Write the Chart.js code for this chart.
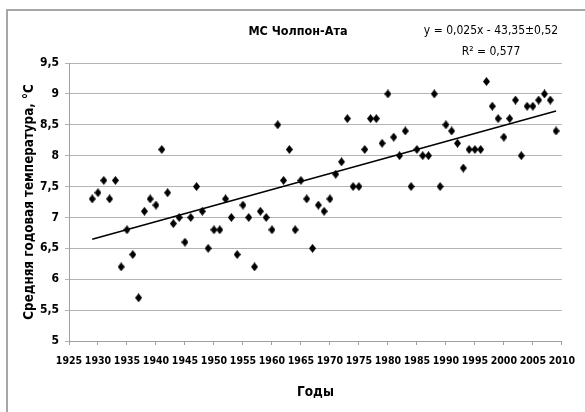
<!DOCTYPE html>
<html>
<head>
<meta charset="utf-8">
<script src="https://cdn.jsdelivr.net/npm/chart.js@4/dist/chart.umd.min.js"></script>
<style>
  html, body { margin: 0; padding: 0; background: #fff; }
  #wrap { width: 585px; height: 412px; }
</style>
</head>
<body>
<div id="wrap"><canvas id="myChart" width="585" height="412"></canvas></div>
<script>
const years = [1929, 1930, 1931, 1932, 1933, 1934, 1935, 1936, 1937, 1938,
  1939, 1940, 1941, 1942, 1943, 1944, 1945, 1946, 1947, 1948,
  1949, 1950, 1951, 1952, 1953, 1954, 1955, 1956, 1957, 1958,
  1959, 1960, 1961, 1962, 1963, 1964, 1965, 1966, 1967, 1968,
  1969, 1970, 1971, 1972, 1973, 1974, 1975, 1976, 1977, 1978,
  1979, 1980, 1981, 1982, 1983, 1984, 1985, 1986, 1987, 1988,
  1989, 1990, 1991, 1992, 1993, 1994, 1995, 1996, 1997, 1998,
  1999, 2000, 2001, 2002, 2003, 2004, 2005, 2006, 2007, 2008, 2009];
const temps = [7.3, 7.4, 7.6, 7.3, 7.6, 6.2, 6.8, 6.4, 5.7, 7.1,
  7.3, 7.2, 8.1, 7.4, 6.9, 7.0, 6.6, 7.0, 7.5, 7.1,
  6.5, 6.8, 6.8, 7.3, 7.0, 6.4, 7.2, 7.0, 6.2, 7.1,
  7.0, 6.8, 8.5, 7.6, 8.1, 6.8, 7.6, 7.3, 6.5, 7.2,
  7.1, 7.3, 7.7, 7.9, 8.6, 7.5, 7.5, 8.1, 8.6, 8.6,
  8.2, 9.0, 8.3, 8.0, 8.4, 7.5, 8.1, 8.0, 8.0, 9.0,
  7.5, 8.5, 8.4, 8.2, 7.8, 8.1, 8.1, 8.1, 9.2, 8.8,
  8.6, 8.3, 8.6, 8.9, 8.0, 8.8, 8.8, 8.9, 9.0, 8.9, 8.4];

const chartTitle = 'МС Чолпон-Ата';
const eqLines = ['y = 0,025x - 43,35±0,52', 'R² = 0,577'];
const xTitle = 'Годы';
const yTitle = 'Средняя годовая температура, °С';

const narrow = "'DejaVu Sans Condensed', 'Liberation Sans Narrow', sans-serif";

// least squares trend, drawn from first to last year
const n = years.length;
let sx = 0, sy = 0, sxx = 0, sxy = 0;
for (let i = 0; i < n; i++) {
  sx += years[i]; sy += temps[i];
  sxx += years[i] * years[i]; sxy += years[i] * temps[i];
}
const slope = (n * sxy - sx * sy) / (n * sxx - sx * sx);
const icpt = (sy - slope * sx) / n;
const trend = [years[0], years[n - 1]].map(x => ({ x, y: icpt + slope * x }));

// Excel-like diamond marker
const marker = document.createElement('canvas');
marker.width = 7; marker.height = 9;
const m = marker.getContext('2d');
m.fillStyle = '#000';
m.beginPath();
m.moveTo(3.5, 0); m.lineTo(7, 4.5); m.lineTo(3.5, 9); m.lineTo(0, 4.5);
m.closePath();
m.fill();

const frame = {
  id: 'frame',
  beforeDraw(chart) {
    const c = chart.ctx;
    c.save();
    c.fillStyle = '#fff';
    c.fillRect(0, 0, chart.width, chart.height);
    c.strokeStyle = '#a6a6a6';
    c.lineWidth = 2;
    c.strokeRect(7, 10, 700, 500);
    c.restore();
  },
  afterDraw(chart) {
    const c = chart.ctx;
    c.save();
    c.fillStyle = '#000';
    c.textAlign = 'center';
    c.textBaseline = 'middle';
    c.font = "bold 12.5px " + narrow;
    c.fillText(chartTitle, 298, 32);
    c.font = "12px " + narrow;
    c.fillText(eqLines[0], 491, 31);
    c.fillText(eqLines[1], 491, 52);
    c.restore();
  }
};

const data = {
  datasets: [
    {
      type: 'scatter',
      label: 'T',
      data: years.map((x, i) => ({ x, y: temps[i] })),
      pointStyle: marker,
      pointRadius: 4,
      order: 1
    },
    {
      type: 'line',
      label: 'trend',
      data: trend,
      borderColor: '#000',
      borderWidth: 1.5,
      pointRadius: 0,
      fill: false,
      order: 2
    }
  ]
};

const ctx = document.getElementById('myChart').getContext('2d');
const myChart = new Chart(ctx, {
  type: 'scatter',
  data: data,
  plugins: [frame],
  options: {
    responsive: false,
    animation: false,
    layout: { padding: { left: 0, top: 63, right: 19, bottom: 0 } },
    plugins: { legend: { display: false }, tooltip: { enabled: false } },
    scales: {
      x: {
        type: 'linear',
        min: 1925,
        max: 2010,
        afterFit: s => { s.height = 71; },
        ticks: {
          stepSize: 5,
          padding: 10,
          maxRotation: 0,
          autoSkip: false,
          color: '#000',
          font: { family: narrow, size: 10.5, weight: 'bold' },
          callback: v => String(v)
        },
        grid: { drawOnChartArea: false, color: '#a0a0a0', tickLength: 4 },
        border: { color: '#a0a0a0' },
        title: {
          display: true,
          text: xTitle,
          color: '#000',
          font: { family: narrow, size: 13.5, weight: 'bold' },
          padding: { top: 0, bottom: 11 }
        }
      },
      y: {
        min: 5,
        max: 9.5,
        afterFit: s => { s.width = 69; },
        ticks: {
          stepSize: 0.5,
          padding: 6,
          color: '#000',
          font: { family: narrow, size: 12, weight: 'bold' },
          callback: v => String(v).replace('.', ',')
        },
        grid: { color: '#b4b4b4', tickLength: 4 },
        border: { color: '#a0a0a0' },
        title: {
          display: true,
          text: yTitle,
          color: '#000',
          font: { family: narrow, size: 13.3, weight: 'bold' },
          padding: { top: 22, bottom: 0 }
        }
      }
    }
  }
});
</script>
</body>
</html>
